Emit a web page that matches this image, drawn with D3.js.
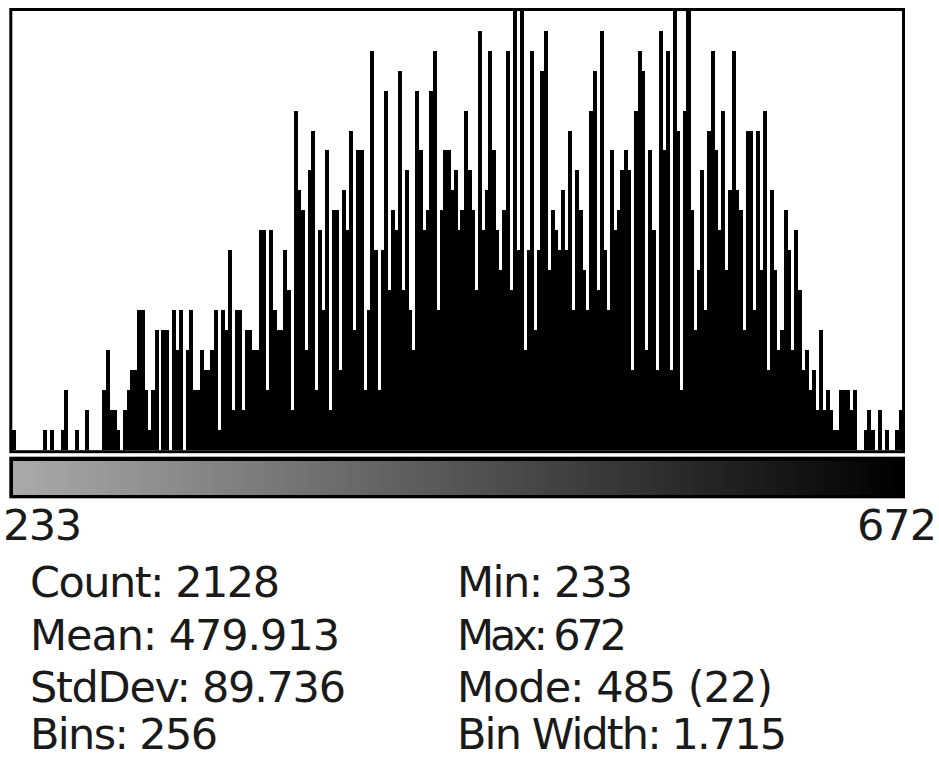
<!DOCTYPE html>
<html>
<head>
<meta charset="utf-8">
<script src="https://cdn.jsdelivr.net/npm/d3@7"></script>
<style>
  body { margin: 0; background: #fff; }
  svg { display: block; }
</style>
</head>
<body>
<div id="histArea"></div>
<script>
// counts per bin, 256 bins from 233 to 672
var binCounts = [
  1,0,0,0,0,0,0,0,0,1,0,1,0,0,1,3,0,0,1,0,0,2,0,0,0,0,
  3,5,2,2,1,0,2,3,4,4,7,7,3,1,3,
  6,0,6,6,0,7,5,7,0,5,
  7,3,3,5,4,4,5,7,1,7,6,10,2,7,
  7,2,6,6,5,5,11,11,3,11,
  7,6,6,10,8,2,17,13,12,5,
  14,16,3,11,7,15,2,12,12,4,
  13,11,16,6,15,15,3,7,20,10,
  3,10,18,8,12,11,19,8,14,7,
  5,18,15,11,12,18,20,7,12,15,
  15,13,14,11,
  12,17,14,12,8,21,11,13,20,15,
  11,9,12,20,8,22,10,22,5,10,
  20,6,10,19,21,9,12,11,10,13,
  10,16,7,14,12,9,7,17,19,8,
  21,10,7,15,11,12,14,15,14,4,
  17,20,19,5,15,11,4,21,15,20,
  4,22,16,
  3,17,22,12,6,9,14,7,16,20,
  15,11,17,9,13,20,13,12,6,16,
  16,7,16,9,17,4,13,9,5,6,
  12,10,5,11,8,4,5,3,4,2,
  6,2,3,2,1,1,3,3,3,2,
  3,0,0,1,2,1,0,2,0,1,0,0,1,2
];
var rangeLabels = ["233", "672"];
var statsLeft  = ["Count: 2128", "Mean: 479.913", "StdDev: 89.736", "Bins: 256"];
var statsRight = ["Min: 233", "Max: 672", "Mode: 485 (22)", "Bin Width: 1.715"];
var maxCount = 22;

var W = 939, H = 759;
var svg = d3.select("#histArea").append("svg")
    .attr("width", W)
    .attr("height", H)
    .attr("viewBox", "0 0 " + W + " " + H);

svg.append("rect").attr("width", W).attr("height", H).attr("fill", "#fff");

// plot box (don't call it "top", that's window.top)
var plotLeft = 12, plotRight = 902, plotTop = 10.7, plotBase = 450;

var x = d3.scaleBand()
    .domain(d3.range(binCounts.length))
    .range([plotLeft, plotRight])
    .padding(0);
var y = d3.scaleLinear().domain([0, maxCount]).range([plotBase, plotTop]);

// bars, drawn edge to edge like ImageJ does
svg.append("g")
   .attr("shape-rendering", "crispEdges")
   .selectAll("rect")
   .data(binCounts)
   .enter().append("rect")
   .attr("x", function(d, i) { return x(i); })
   .attr("y", function(d) { return y(d); })
   .attr("width", x.bandwidth() + 0.6)
   .attr("height", function(d) { return plotBase - y(d); })
   .attr("fill", "#000");

// frame around the histogram
svg.append("rect")
   .attr("x", 10.8).attr("y", 9.5)
   .attr("width", 903.5 - 10.8).attr("height", 451.7 - 9.5)
   .attr("fill", "none")
   .attr("stroke", "#000")
   .attr("stroke-width", 3);

// LUT bar underneath
svg.append("rect")
   .attr("x", 9.3).attr("y", 456.7)
   .attr("width", 895.7).attr("height", 41.6)
   .attr("fill", "#000");

var lut = d3.scaleLinear().domain([0, binCounts.length - 1]).range([170, 0]);
svg.append("g")
   .attr("shape-rendering", "crispEdges")
   .selectAll("rect")
   .data(binCounts)
   .enter().append("rect")
   .attr("x", function(d, i) { return x(i) + 0.7; })
   .attr("y", 460.7)
   .attr("width", x.bandwidth() + 0.6)
   .attr("height", 34.3)
   .attr("fill", function(d, i) { var v = Math.round(lut(i)); return d3.rgb(v, v, v); });

// min / max under the LUT bar
var font = "'DejaVu Sans', Verdana, sans-serif";
svg.append("text")
   .attr("x", 3).attr("y", 540)
   .attr("font-family", font).attr("font-size", 43)
   .attr("textLength", 79).attr("lengthAdjust", "spacing")
   .attr("fill", "#1a1a1a")
   .text(rangeLabels[0]);
svg.append("text")
   .attr("x", 937).attr("y", 540)
   .attr("text-anchor", "end")
   .attr("font-family", font).attr("font-size", 43)
   .attr("textLength", 80).attr("lengthAdjust", "spacing")
   .attr("fill", "#1a1a1a")
   .text(rangeLabels[1]);

// statistics, two columns
var rowY = [597, 650, 702, 749];
var leftW = [250, 310, 316, 188];
var rightW = [176, 170, 316, 330];

svg.append("g").selectAll("text")
   .data(statsLeft)
   .enter().append("text")
   .attr("x", 30)
   .attr("y", function(d, i) { return rowY[i]; })
   .attr("font-family", font).attr("font-size", 43)
   .attr("textLength", function(d, i) { return leftW[i]; })
   .attr("lengthAdjust", "spacing")
   .attr("fill", "#1a1a1a")
   .text(function(d) { return d; });

svg.append("g").selectAll("text")
   .data(statsRight)
   .enter().append("text")
   .attr("x", 457)
   .attr("y", function(d, i) { return rowY[i]; })
   .attr("font-family", font).attr("font-size", 43)
   .attr("textLength", function(d, i) { return rightW[i]; })
   .attr("lengthAdjust", "spacing")
   .attr("fill", "#1a1a1a")
   .text(function(d) { return d; });
</script>
</body>
</html>
